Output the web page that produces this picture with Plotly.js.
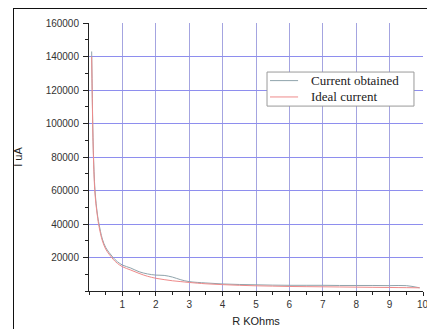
<!DOCTYPE html>
<html>
<head>
<meta charset="utf-8">
<script src="https://cdn.plot.ly/plotly-3.0.1.min.js"></script>
<style>
  html, body { margin: 0; padding: 0; background: #fff; }
  #wrap { position: relative; width: 427px; height: 329px; overflow: hidden; }
  #chart { position: absolute; left: 0; top: 0; width: 427px; height: 329px; }
  #frameTop { position: absolute; left: 13px; top: 8px; width: 414px; height: 1px; background: #111; }
  #frameLeft { position: absolute; left: 13px; top: 8px; width: 1px; height: 321px; background: #111; }
</style>
</head>
<body>
<div id="wrap">
  <div id="chart"></div>
  <div id="frameTop"></div>
  <div id="frameLeft"></div>
</div>
<script>
const resistanceK = [0.08, 0.1, 0.13, 0.18, 0.25, 0.3, 0.4, 0.5, 0.6, 0.72, 0.85, 1.0, 1.25, 1.5, 1.75, 2.0, 2.25, 2.5, 2.75, 3.0, 3.5, 4.0, 4.5, 5.0, 5.5, 6.0, 6.5, 7.0, 7.5, 8.0, 8.5, 9.0, 9.5, 9.9];
const currentObtained = [143000, 115000, 84000, 60000, 46000, 40000, 31000, 26000, 23000, 20000, 17500, 15500, 13700, 11500, 10200, 9500, 9300, 8300, 6700, 5600, 4800, 4200, 3900, 3700, 3500, 3400, 3400, 3400, 3300, 3300, 3300, 3200, 3200, 1900];
const idealCurrent = [140000, 112000, 82000, 58000, 45000, 38500, 30000, 25000, 22000, 19000, 16500, 14500, 12500, 10500, 8800, 7600, 6800, 6100, 5600, 5100, 4300, 3800, 3400, 3100, 2900, 2700, 2600, 2500, 2400, 2300, 2200, 2100, 2000, 1900];
const xTickVals = [1, 2, 3, 4, 5, 6, 7, 8, 9, 10];
const yTickVals = [20000, 40000, 60000, 80000, 100000, 120000, 140000, 160000];
const seriesNames = ['Current obtained', 'Ideal current'];
const seriesColors = ['#8fa3ab', '#ee8a8a'];

const traces = [
  { x: resistanceK, y: currentObtained, name: seriesNames[0], type: 'scatter', mode: 'lines',
    line: { color: seriesColors[0], width: 1, shape: 'spline' } },
  { x: resistanceK, y: idealCurrent, name: seriesNames[1], type: 'scatter', mode: 'lines',
    line: { color: seriesColors[1], width: 1, shape: 'spline' } }
];

// custom legend (paper coordinates)
const legX0 = 0.533, legX1 = 0.973, legY0 = 0.690, legY1 = 0.817;
const rowY = [0.785, 0.724];
const shapes = [
  { type: 'line', xref: 'x', yref: 'y', x0: 0.02, x1: 10, y0: 160000, y1: 160000,
    line: { color: '#ffffff', width: 2 }, layer: 'below' },
  { type: 'rect', xref: 'paper', yref: 'paper', x0: legX0, x1: legX1, y0: legY0, y1: legY1,
    fillcolor: '#ffffff', line: { color: '#9a9a9a', width: 1 }, layer: 'above' }
];
const annotations = [
  { xref: 'x', yref: 'paper', x: 10, y: -0.052, text: '10', showarrow: false,
    xanchor: 'center', yanchor: 'middle', font: { size: 10, color: '#333' } }
];
seriesNames.forEach((nm, i) => {
  shapes.push({ type: 'line', xref: 'paper', yref: 'paper', x0: 0.542, x1: 0.626, y0: rowY[i], y1: rowY[i],
    line: { color: seriesColors[i], width: 1 }, layer: 'above' });
  annotations.push({ xref: 'paper', yref: 'paper', x: 0.661, y: rowY[i], text: nm, showarrow: false,
    xanchor: 'left', yanchor: 'middle', borderpad: 0,
    font: { family: 'Liberation Serif, Times New Roman, serif', size: 13, color: '#222' } });
});

const layout = {
  width: 427, height: 329,
  margin: { l: 89, r: 4, t: 23, b: 38 },
  paper_bgcolor: '#ffffff', plot_bgcolor: '#ffffff',
  font: { family: 'Liberation Sans, Arial, sans-serif', size: 10, color: '#333' },
  showlegend: false,
  shapes: shapes,
  annotations: annotations,
  xaxis: {
    range: [0, 10], tickvals: xTickVals, ticktext: xTickVals.map(String),
    showgrid: true, gridcolor: '#a4a4e0', gridwidth: 1,
    showline: true, linecolor: '#222', linewidth: 1, zeroline: false,
    ticks: 'outside', ticklen: 4, tickcolor: '#222',
    minor: { dtick: 0.5, ticks: 'outside', ticklen: 3, tickcolor: '#222', showgrid: false },
    title: { text: 'R KOhms', font: { size: 11, color: '#222' }, standoff: 8 },
    fixedrange: true
  },
  yaxis: {
    range: [0, 160000], tickvals: yTickVals, ticktext: yTickVals.map(String),
    showgrid: true, gridcolor: '#8e8eee', gridwidth: 1,
    showline: true, linecolor: '#222', linewidth: 1, zeroline: false,
    ticks: 'outside', ticklen: 5, tickcolor: '#222', ticklabelstandoff: 2,
    minor: { dtick: 10000, ticks: 'outside', ticklen: 3, tickcolor: '#222', showgrid: false },
    title: { text: 'I uA', font: { size: 11, color: '#222' }, standoff: 20 },
    fixedrange: true
  }
};

Plotly.newPlot('chart', traces, layout, { displayModeBar: false, staticPlot: true });
</script>
</body>
</html>
